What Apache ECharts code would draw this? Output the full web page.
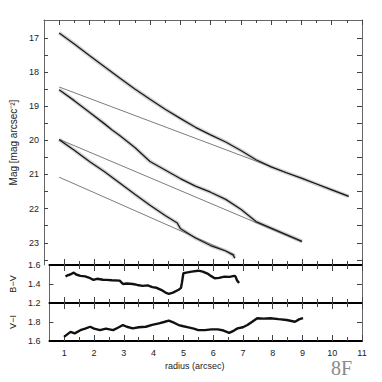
<!DOCTYPE html>
<html>
<head>
<meta charset="utf-8">
<script src="https://cdn.jsdelivr.net/npm/echarts@6/dist/echarts.min.js"></script>
<style>
  html, body { margin: 0; padding: 0; background: #fff; }
  #chart { width: 382px; height: 382px; }
</style>
</head>
<body>
<div id="chart"></div>
<script>
// tick labels
const radiusLabels = [1, 2, 3, 4, 5, 6, 7, 8, 9, 10, 11];
const radiusMinor = [1.5, 2.5, 3.5, 4.5, 5.5, 6.5, 7.5, 8.5, 9.5, 10.5];
const magLabels = [17, 18, 19, 20, 21, 22, 23];
const magTicks = [17, 17.5, 18, 18.5, 19, 19.5, 20, 20.5, 21, 21.5, 22, 22.5, 23, 23.5];
const bvLabels = [1.2, 1.4, 1.6];
const viLabels = [1.6, 1.8];

// surface brightness profiles [radius, mag]
const profileA = [[1.0, 16.86], [1.5, 17.18], [2.0, 17.52], [2.5, 17.85], [3.0, 18.18], [3.5, 18.50],
  [4.0, 18.80], [4.5, 19.09], [5.0, 19.36], [5.5, 19.62], [6.0, 19.84], [6.5, 20.05], [7.0, 20.30],
  [7.5, 20.57], [8.0, 20.78], [8.5, 20.95], [9.0, 21.11], [9.5, 21.28], [10.0, 21.45], [10.56, 21.64]];
const profileB = [[1.0, 18.52], [1.5, 18.84], [2.0, 19.18], [2.5, 19.52], [2.75, 19.70], [3.0, 19.86],
  [3.5, 20.21], [4.0, 20.62], [4.5, 20.87], [5.0, 21.12], [5.5, 21.34], [6.0, 21.52], [6.5, 21.73],
  [7.0, 22.02], [7.5, 22.38], [8.0, 22.57], [8.5, 22.76], [9.02, 22.96]];
const profileC = [[1.0, 19.98], [1.5, 20.29], [2.0, 20.62], [2.5, 20.92], [3.0, 21.25], [3.5, 21.58],
  [4.0, 21.90], [4.5, 22.20], [4.9, 22.42], [5.0, 22.58], [5.5, 22.86], [6.0, 23.08], [6.5, 23.24],
  [6.75, 23.36], [6.8, 23.45]];

// exponential fits (straight in mag)
const fitA = [[1.0, 18.44], [10.56, 21.63]];
const fitB = [[1.0, 19.97], [9.02, 22.98]];
const fitC = [[1.0, 21.08], [6.8, 23.35]];

// colour profiles
const bvColor = [[1.04, 1.478], [1.1, 1.49], [1.2, 1.50], [1.32, 1.52], [1.4, 1.50], [1.54, 1.485],
  [1.7, 1.48], [1.87, 1.461], [1.98, 1.443], [2.1, 1.455], [2.3, 1.445], [2.42, 1.443], [2.6, 1.44],
  [2.86, 1.436], [2.97, 1.40], [3.1, 1.405], [3.3, 1.40], [3.45, 1.39], [3.63, 1.38], [3.8, 1.385],
  [3.96, 1.367], [4.1, 1.36], [4.29, 1.332], [4.4, 1.31], [4.51, 1.297], [4.65, 1.31], [4.84, 1.339],
  [4.92, 1.36], [4.95, 1.41], [5.0, 1.513], [5.1, 1.52], [5.28, 1.53], [5.5, 1.54], [5.65, 1.53],
  [5.83, 1.506], [5.95, 1.48], [6.05, 1.461], [6.2, 1.465], [6.38, 1.478], [6.55, 1.475],
  [6.71, 1.485], [6.75, 1.48], [6.8, 1.44], [6.87, 1.41]];
const viColor = [[0.99, 1.643], [1.1, 1.67], [1.21, 1.696], [1.35, 1.68], [1.54, 1.714], [1.7, 1.73],
  [1.87, 1.75], [2.0, 1.73], [2.2, 1.714], [2.4, 1.73], [2.64, 1.714], [2.8, 1.74], [2.97, 1.768],
  [3.1, 1.75], [3.3, 1.733], [3.5, 1.745], [3.74, 1.75], [3.95, 1.77], [4.18, 1.786], [4.35, 1.80],
  [4.51, 1.814], [4.7, 1.79], [4.84, 1.768], [5.0, 1.755], [5.17, 1.743], [5.35, 1.73], [5.5, 1.714],
  [5.72, 1.714], [5.94, 1.722], [6.16, 1.722], [6.35, 1.71], [6.54, 1.686], [6.7, 1.71], [6.82, 1.733],
  [7.0, 1.745], [7.15, 1.768], [7.3, 1.80], [7.48, 1.84], [7.7, 1.835], [7.92, 1.84], [8.2, 1.83],
  [8.47, 1.821], [8.75, 1.803], [8.9, 1.83], [9.02, 1.84]];

const font = "'Liberation Sans', Arial, sans-serif";
const chart = echarts.init(document.getElementById('chart'), null, { renderer: 'svg' });

function xAx(grid, pos, extra) {
  return Object.assign({
    type: 'value', gridIndex: grid, position: pos, min: 0.5, max: 11,
    splitLine: { show: false }, axisLabel: { show: false },
    axisTick: { show: false }, axisLine: { show: false, onZero: false }
  }, extra);
}
function yAx(grid, pos, min, max, extra) {
  return Object.assign({
    type: 'value', gridIndex: grid, position: pos, min: min, max: max,
    splitLine: { show: false }, axisLabel: { show: false },
    axisTick: { show: false }, axisLine: { show: false, onZero: false }
  }, extra);
}
const thick = { show: true, onZero: false, lineStyle: { color: '#000', width: 2 } };
const thin = { show: true, onZero: false, lineStyle: { color: '#666', width: 1 } };
const tickStyle = { color: '#444', width: 1 };

const xAxes = [
  // top panel, upper frame
  xAx(0, 'top', { axisLine: thin, axisTick: { show: true, inside: true, length: 5, lineStyle: tickStyle, customValues: radiusLabels } }),
  xAx(0, 'top', { axisTick: { show: true, inside: true, length: 3, lineStyle: tickStyle, customValues: radiusMinor } }),
  // separator above B-V
  xAx(1, 'top', { axisLine: thick }),
  xAx(1, 'top', { offset: 6, axisTick: { show: true, inside: true, length: 12, lineStyle: tickStyle, customValues: radiusLabels } }),
  xAx(1, 'top', { offset: 4, axisTick: { show: true, inside: true, length: 8, lineStyle: tickStyle, customValues: radiusMinor } }),
  // separator above V-I
  xAx(2, 'top', { axisLine: thick }),
  xAx(2, 'top', { offset: 6, axisTick: { show: true, inside: true, length: 12, lineStyle: tickStyle, customValues: radiusLabels } }),
  xAx(2, 'top', { offset: 4, axisTick: { show: true, inside: true, length: 8, lineStyle: tickStyle, customValues: radiusMinor } }),
  // bottom axis with labels
  xAx(2, 'bottom', {
    axisLine: thick,
    axisTick: { show: true, inside: true, length: 6, lineStyle: tickStyle, customValues: radiusLabels },
    axisLabel: { show: true, margin: 7, fontSize: 9, color: '#222', fontFamily: font, customValues: radiusLabels }
  }),
  xAx(2, 'bottom', { axisTick: { show: true, inside: true, length: 4, lineStyle: tickStyle, customValues: radiusMinor } })
];

const yAxes = [
  yAx(0, 'left', 16.48, 23.65, {
    inverse: true, axisLine: thin,
    axisTick: { show: true, inside: true, length: 4, lineStyle: tickStyle, customValues: magTicks },
    axisLabel: { show: true, margin: 5, fontSize: 9, color: '#222', fontFamily: font, customValues: magLabels },
    name: 'Mag [mag arcsec\u207B\u00B2]', nameLocation: 'middle', nameGap: 26,
    nameTextStyle: { fontSize: 10, color: '#222', fontFamily: font }
  }),
  yAx(0, 'right', 16.48, 23.65, {
    inverse: true, axisLine: thin,
    axisTick: { show: true, inside: true, length: 5, lineStyle: tickStyle, customValues: magTicks }
  }),
  yAx(1, 'left', 1.2, 1.6, {
    axisLine: thin,
    axisTick: { show: true, inside: true, length: 4, lineStyle: tickStyle, customValues: [1.4] },
    axisLabel: { show: true, margin: 9, fontSize: 9, color: '#222', fontFamily: font, customValues: bvLabels },
    name: 'B\u2212V', nameLocation: 'middle', nameGap: 24,
    nameTextStyle: { fontSize: 9, color: '#222', fontFamily: font }
  }),
  yAx(1, 'right', 1.2, 1.6, {
    axisLine: thin,
    axisTick: { show: true, inside: true, length: 5, lineStyle: tickStyle, customValues: [1.4] }
  }),
  yAx(2, 'left', 1.6, 2.0, {
    axisLine: thin,
    axisTick: { show: true, inside: true, length: 4, lineStyle: tickStyle, customValues: [1.8] },
    axisLabel: { show: true, margin: 9, fontSize: 9, color: '#222', fontFamily: font, customValues: viLabels },
    name: 'V\u2212I', nameLocation: 'middle', nameGap: 24,
    nameTextStyle: { fontSize: 9, color: '#222', fontFamily: font }
  }),
  yAx(2, 'right', 1.6, 2.0, {
    axisLine: thin,
    axisTick: { show: true, inside: true, length: 5, lineStyle: tickStyle, customValues: [1.8] }
  })
];

function line(data, xi, yi, width, color, z) {
  return {
    type: 'line', data: data, xAxisIndex: xi, yAxisIndex: yi, showSymbol: false,
    silent: true, z: z, lineStyle: { width: width, color: color }
  };
}

const series = [];
[profileA, profileB, profileC].forEach(p => {
  series.push(line(p, 0, 0, 4, '#d4d4d4', 2));
  series.push(line(p, 0, 0, 1.3, '#1a1a1a', 4));
});
[fitA, fitB, fitC].forEach(f => series.push(line(f, 0, 0, 0.9, '#6d6d6d', 3)));
series.push(line(bvColor, 2, 2, 2.4, '#111', 3));
series.push(line(viColor, 5, 4, 2.4, '#111', 3));

chart.setOption({
  animation: false,
  backgroundColor: '#fff',
  grid: [
    { left: 41, top: 20, width: 321, height: 245 },
    { left: 41, top: 265, width: 321, height: 38 },
    { left: 41, top: 303, width: 321, height: 38 }
  ],
  xAxis: xAxes,
  yAxis: yAxes,
  series: series,
  graphic: [
    { type: 'text', left: 165, top: 361, style: { text: 'radius (arcsec)', fontSize: 9, fill: '#222', fontFamily: font } },
    { type: 'text', left: 331, top: 358, style: { text: '8F', fontSize: 20, fill: '#8a8a8a', fontFamily: "'Liberation Serif', 'DejaVu Serif', serif" } }
  ]
});
</script>
</body>
</html>
